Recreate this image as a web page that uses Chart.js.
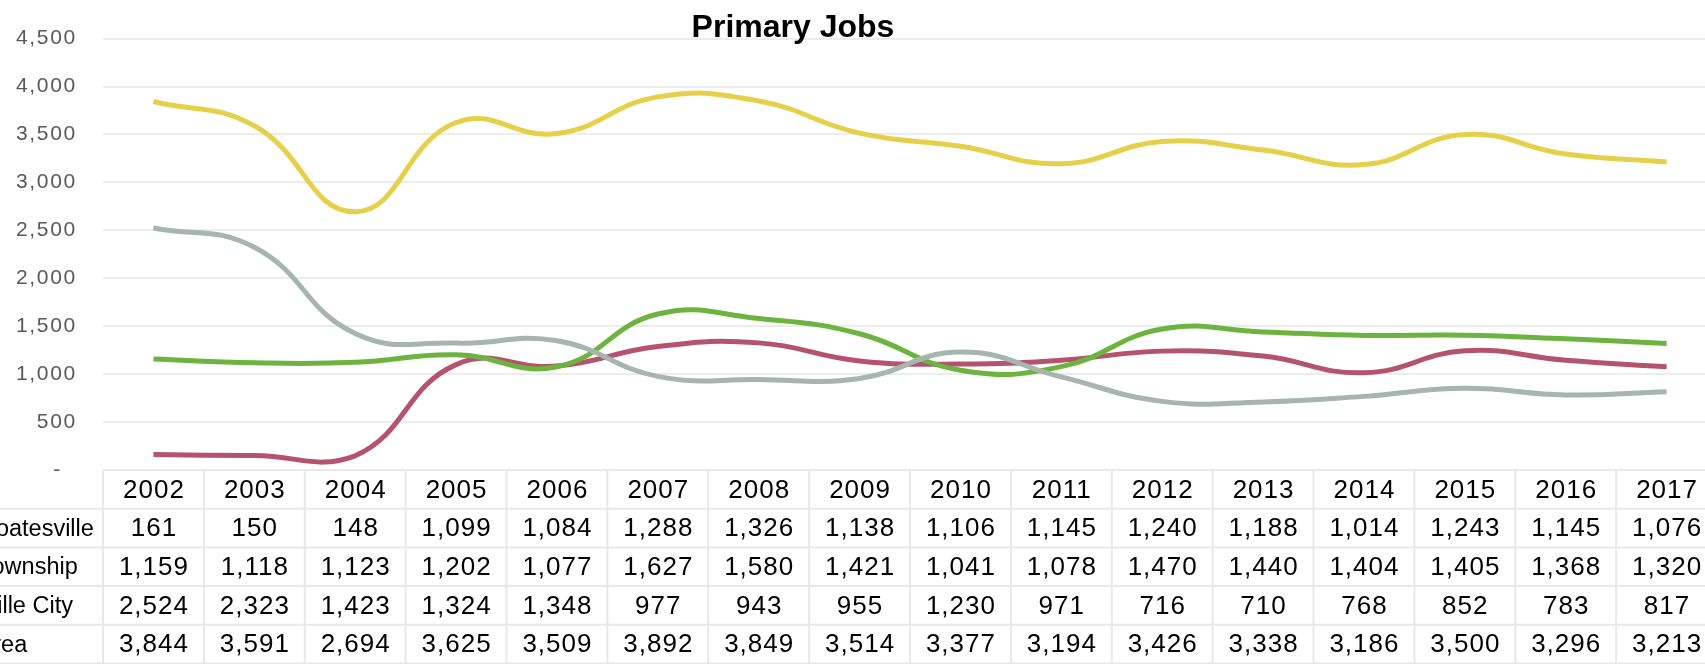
<!DOCTYPE html>
<html>
<head>
<meta charset="utf-8">
<script src="https://cdn.jsdelivr.net/npm/chart.js@4.4.1/dist/chart.umd.min.js"></script>
<style>
  html, body { margin: 0; padding: 0; background: #fff; overflow: hidden; }
  #wrap { width: 1725px; height: 664px; }
</style>
</head>
<body>
<div id="wrap"><canvas id="jobsChart" width="1725" height="664"></canvas></div>
<script>
const years = ['2002', '2003', '2004', '2005', '2006', '2007', '2008', '2009',
               '2010', '2011', '2012', '2013', '2014', '2015', '2016', '2017'];
const southCoatesville = [161, 150, 148, 1099, 1084, 1288, 1326, 1138, 1106, 1145, 1240, 1188, 1014, 1243, 1145, 1076];
const valleyTownship = [1159, 1118, 1123, 1202, 1077, 1627, 1580, 1421, 1041, 1078, 1470, 1440, 1404, 1405, 1368, 1320];
const coatesvilleCity = [2524, 2323, 1423, 1324, 1348, 977, 943, 955, 1230, 971, 716, 710, 768, 852, 783, 817];
const studyArea = [3844, 3591, 2694, 3625, 3509, 3892, 3849, 3514, 3377, 3194, 3426, 3338, 3186, 3500, 3296, 3213];
const seriesNames = ['South Coatesville', 'Valley Township', 'Coatesville City', 'Study Area'];
const yMax = 4500;
const yStep = 500;

const colors = ['#b5536f', '#6db33f', '#a6b5ad', '#e6d04a'];
const allSeries = [southCoatesville, valleyTownship, coatesvilleCity, studyArea];

function fmt(v) {
  return v.toLocaleString('en-US');
}

// wider spacing for the axis labels, like the original
const spacingPlugin = {
  id: 'spacing',
  beforeDraw(chart) {
    chart.ctx.letterSpacing = '1.7px';
  }
};

// draws the title and the data table under the plot
const tablePlugin = {
  id: 'dataTable',
  afterDraw(chart) {
    const ctx = chart.ctx;
    const area = chart.chartArea;
    const xs = chart.scales.x;
    const colW = (area.right - area.left) / years.length;
    const top = area.bottom;
    const rowH = 38.7;
    const nRows = allSeries.length + 1;
    const bottom = top + rowH * nRows;

    ctx.save();
    ctx.strokeStyle = '#e8e8e8';
    ctx.lineWidth = 2;
    ctx.beginPath();
    ctx.moveTo(area.left, top);
    ctx.lineTo(area.right, top);
    for (let r = 1; r <= nRows; r++) {
      ctx.moveTo(-200, top + r * rowH);
      ctx.lineTo(area.right, top + r * rowH);
    }
    for (let c = 0; c <= years.length; c++) {
      const x = area.left + c * colW;
      ctx.moveTo(x, top);
      ctx.lineTo(x, bottom);
    }
    ctx.stroke();

    ctx.fillStyle = '#000';
    ctx.textBaseline = 'middle';
    allSeries.forEach((s, r) => {
      const cy = top + rowH * (r + 1.5) + 1;
      ctx.letterSpacing = '1px';
      ctx.font = '26px "Liberation Sans", Arial, sans-serif';
      ctx.textAlign = 'center';
      s.forEach((v, i) => {
        ctx.fillText(fmt(v), xs.getPixelForValue(i) + 0.5, cy);
      });
      // row names, cut off by the left edge as in the original
      ctx.letterSpacing = '0px';
      ctx.font = '23.5px "Liberation Sans", Arial, sans-serif';
      ctx.textAlign = 'left';
      ctx.fillText(seriesNames[r], -89, cy);
    });
    ctx.letterSpacing = '1px';
    ctx.font = '26px "Liberation Sans", Arial, sans-serif';
    ctx.textAlign = 'center';
    years.forEach((y, i) => {
      ctx.fillText(y, xs.getPixelForValue(i) + 0.5, top + rowH / 2 + 1);
    });

    // title
    ctx.letterSpacing = '0px';
    ctx.font = 'bold 32px "Liberation Sans", Arial, sans-serif';
    ctx.textBaseline = 'alphabetic';
    ctx.fillText('Primary Jobs', 793, 37);
    ctx.restore();
  }
};

const ctx = document.getElementById('jobsChart').getContext('2d');
const jobsChart = new Chart(ctx, {
  type: 'line',
  data: {
    labels: years,
    datasets: allSeries.map((s, i) => ({
      label: seriesNames[i],
      data: s,
      borderColor: colors[i],
      backgroundColor: colors[i],
      borderWidth: 5,
      pointRadius: 0,
      tension: 0.45,
      fill: false,
      order: allSeries.length - 1 - i
    }))
  },
  options: {
    responsive: false,
    animation: false,
    layout: { padding: { top: 38, bottom: 194, left: 0, right: 8 } },
    plugins: {
      legend: { display: false },
      tooltip: { enabled: false },
      title: { display: false }
    },
    scales: {
      x: {
        display: false,
        offset: true
      },
      y: {
        min: 0,
        max: yMax,
        ticks: {
          stepSize: yStep,
          padding: 26,
          color: '#595959',
          font: { family: '"Liberation Sans", Arial, sans-serif', size: 21 },
          callback: v => v === 0 ? '-  ' : fmt(v)
        },
        grid: { color: '#ececec', lineWidth: 2, drawTicks: false },
        border: { display: false },
        afterFit(scale) { scale.width = 103; }
      }
    }
  },
  plugins: [spacingPlugin, tablePlugin]
});
</script>
</body>
</html>
